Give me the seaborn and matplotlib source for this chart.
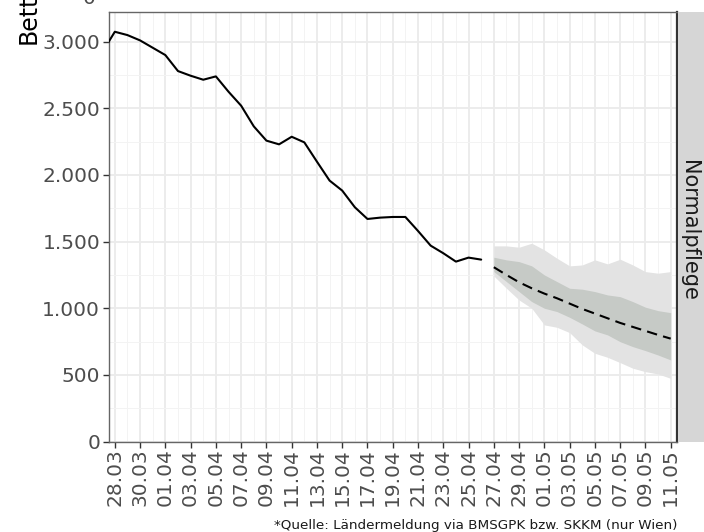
import pandas as pd
import numpy as np
import matplotlib
matplotlib.use("Agg")
import matplotlib.pyplot as plt
import matplotlib.dates as mdates
from matplotlib.ticker import FixedLocator, FuncFormatter
import seaborn as sns

sns.set_theme(style="whitegrid")
plt.rcParams['font.family'] = ['DejaVu Sans']

# observed beds (Normalpflege), 27.03 - 26.04
obs_dates = pd.date_range("2021-03-27", "2021-04-26", freq="D")
obs_values = [2920, 3075, 3050, 3010, 2955, 2900, 2780, 2745, 2715, 2740,
              2625, 2520, 2365, 2258, 2230, 2287, 2245, 2100, 1958, 1883,
              1758, 1670, 1680, 1685, 1685, 1580, 1470, 1413, 1350, 1380,
              1365]

# forecast 27.04 - 11.05
fc_dates = pd.date_range("2021-04-27", "2021-05-11", freq="D")
fc_mean = [1308, 1250, 1195, 1150, 1110, 1075, 1035, 995, 960, 925,
           890, 860, 830, 800, 772]
fc_inner_hi = [1383, 1363, 1350, 1318, 1250, 1200, 1150, 1143, 1125, 1100,
               1087, 1050, 1008, 982, 967]
fc_inner_lo = [1275, 1200, 1125, 1050, 1000, 975, 932, 882, 830, 800,
               749, 712, 682, 649, 612]
fc_outer_hi = [1468, 1468, 1458, 1488, 1438, 1375, 1318, 1325, 1363, 1333,
               1368, 1325, 1275, 1263, 1275]
fc_outer_lo = [1242, 1150, 1062, 1000, 875, 857, 817, 725, 662, 632,
               592, 550, 524, 507, 474]

# tick dates every 2 days starting 28.03
tick_dates = pd.date_range("2021-03-28", "2021-05-11", freq="2D")
day_dates = pd.date_range("2021-03-27", "2021-05-12", freq="D")

panel_label = "Normalpflege"
y_label = "Betten"
caption = "*Quelle: Ländermeldung via BMSGPK bzw. SKKM (nur Wien)"

df_obs = pd.DataFrame({"datum": obs_dates, "betten": obs_values})
df_fc = pd.DataFrame({"datum": fc_dates, "betten": fc_mean})

W, H = 704, 532
fig = plt.figure(figsize=(W / 100, H / 100), dpi=100)
ax = fig.add_axes([108.5 / W, (H - 441.5) / H, 568.5 / W, 430 / H])
ax.set_facecolor("white")

# prediction bands
ax.fill_between(fc_dates, fc_outer_lo, fc_outer_hi, color="#e3e3e3", lw=0, zorder=1)
ax.fill_between(fc_dates, fc_inner_lo, fc_inner_hi, color="#c6cac6", lw=0, zorder=2)

sns.lineplot(data=df_obs, x="datum", y="betten", color="black", lw=1.5, ax=ax, zorder=3)
sns.lineplot(data=df_fc, x="datum", y="betten", color="black", lw=1.5, ax=ax, zorder=3)
ax.lines[-1].set_linestyle((0, (5, 3)))

# axes
x0 = pd.Timestamp("2021-03-27 12:00")
x1 = pd.Timestamp("2021-05-11 12:00")
ax.set_xlim(x0, x1)
ax.set_ylim(0, 3227)

ax.xaxis.set_major_locator(FixedLocator(mdates.date2num(tick_dates)))
ax.xaxis.set_minor_locator(FixedLocator(mdates.date2num(day_dates)))
ax.xaxis.set_major_formatter(mdates.DateFormatter("%d.%m"))
ax.yaxis.set_major_locator(FixedLocator([0, 500, 1000, 1500, 2000, 2500, 3000]))
ax.yaxis.set_minor_locator(FixedLocator([250, 750, 1250, 1750, 2250, 2750, 3250]))
ax.yaxis.set_major_formatter(FuncFormatter(lambda v, p: f"{int(v):,}".replace(",", ".")))

ax.grid(which="major", color="#ebebeb", lw=1.3)
ax.grid(which="minor", color="#f3f3f3", lw=0.7)
ax.set_axisbelow(True)

ax.tick_params(axis="both", which="major", length=4, width=1, color="#333333",
               labelsize=14.5, labelcolor="#4d4d4d", pad=2, bottom=True, left=True)
ax.tick_params(axis="x", which="major", labelrotation=90, pad=1)
ax.tick_params(which="minor", length=0)
ax.set_xlabel("")
ax.set_ylabel("")

for side in ["top", "left", "bottom"]:
    ax.spines[side].set_color("#666666")
    ax.spines[side].set_linewidth(1)
ax.spines["right"].set_color("#333333")
ax.spines["right"].set_linewidth(1.6)

# facet strip on the right
strip = fig.add_axes([677.5 / W, (H - 441.5) / H, 34 / W, 430 / H])
strip.set_facecolor("#d6d6d6")
strip.set_xticks([])
strip.set_yticks([])
for s in strip.spines.values():
    s.set_visible(False)
strip.text(0.33, 0.49, panel_label, rotation=-90, ha="center", va="center",
           fontsize=15, color="#1a1a1a", transform=strip.transAxes)

# axis title and tick label of the panel above (cut off in the original)
fig.text(29 / W, 1 - 44 / H, y_label, rotation=90, ha="center", va="bottom",
         fontsize=17, color="black")
fig.text(95 / W, 1 + 2 / H, "0", ha="right", va="center", fontsize=14.5, color="#4d4d4d")

fig.text(678 / W, 0.5 / H, caption, ha="right", va="bottom", fontsize=9.7, color="#1a1a1a")

fig.savefig("out.png", dpi=100)
